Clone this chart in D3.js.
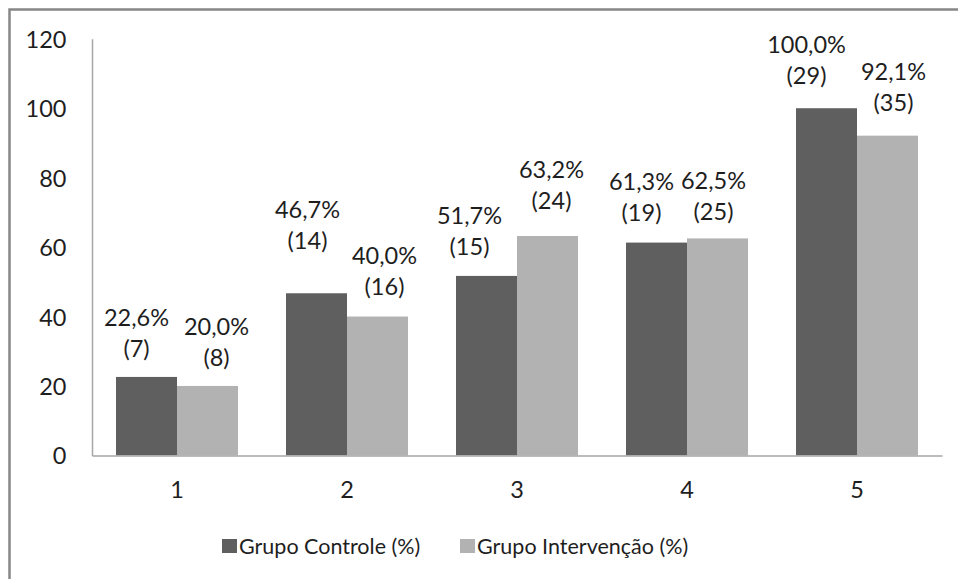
<!DOCTYPE html>
<html>
<head>
<meta charset="utf-8">
<script src="https://cdn.jsdelivr.net/npm/d3@7"></script>
<style>
  html, body { margin: 0; padding: 0; background: #fff; }
  svg { display: block; font-family: Lato, "Open Sans", sans-serif; }
</style>
</head>
<body>
<svg id="chart" width="958" height="579"></svg>
<script>
// Categories and series
const categories = ["1", "2", "3", "4", "5"];
const seriesNames = ["Grupo Controle (%)", "Grupo Intervenção (%)"];
const controlePct = [22.6, 46.7, 51.7, 61.3, 100.0];
const intervencaoPct = [20.0, 40.0, 63.2, 62.5, 92.1];
const controleN = [7, 14, 15, 19, 29];
const intervencaoN = [8, 16, 24, 25, 35];
const yTicks = [0, 20, 40, 60, 80, 100, 120];

// Hand-placed label nudges (px) for each series, per category
const labelNudgeX = [[-10, -9, -17, -15, -20], [9, 7, 4, -4, 6]];
const labelNudgeY = [[2, -23, 1, 0, -3], [2, 0, -5, 3, -3]];

const colors = ["#5f5f5f", "#b2b2b2"];
const textColor = "#1e1e1e";
const numSize = 23.5;
const legendSize = 21.5;

const svg = d3.select("#chart");

// Chart frame
svg.append("rect")
  .attr("x", 9.5).attr("y", 9.5)
  .attr("width", 960).attr("height", 600)
  .attr("fill", "none")
  .attr("stroke", "#878787")
  .attr("stroke-width", 2.5);

const plot = { left: 92, right: 942, top: 38.8, bottom: 455.4 };

const x = d3.scaleBand()
  .domain(categories)
  .range([plot.left, plot.right])
  .paddingInner(0.2824)
  .paddingOuter(0.1412);

const xSub = d3.scaleBand()
  .domain([0, 1])
  .range([0, x.bandwidth()])
  .padding(0);

const y = d3.scaleLinear()
  .domain([0, 120])
  .range([plot.bottom, plot.top]);

const rows = categories.map((c, i) => ({
  cat: c,
  vals: [
    { s: 0, i, v: controlePct[i], n: controleN[i] },
    { s: 1, i, v: intervencaoPct[i], n: intervencaoN[i] }
  ]
}));

// Bars
const groups = svg.append("g").selectAll("g")
  .data(rows)
  .join("g")
  .attr("transform", d => `translate(${x(d.cat)},0)`);

groups.selectAll("rect")
  .data(d => d.vals)
  .join("rect")
  .attr("x", d => xSub(d.s))
  .attr("y", d => y(d.v))
  .attr("width", xSub.bandwidth())
  .attr("height", d => y(0) - y(d.v))
  .attr("fill", d => colors[d.s]);

// Value labels: percentage and count on two lines
const fmt = v => v.toFixed(1).replace(".", ",") + "%";
const lineGap = 31;
const labels = groups.selectAll("g.lbl")
  .data(d => d.vals)
  .join("g")
  .attr("class", "lbl")
  .attr("transform", d => {
    const cx = xSub(d.s) + xSub.bandwidth() / 2 + labelNudgeX[d.s][d.i];
    const cy = y(d.v) - 30 + labelNudgeY[d.s][d.i];
    return `translate(${cx},${cy})`;
  });

labels.append("text")
  .attr("y", -lineGap)
  .attr("dy", "0.36em")
  .attr("text-anchor", "middle")
  .attr("font-size", numSize)
  .attr("fill", textColor)
  .text(d => fmt(d.v));

labels.append("text")
  .attr("y", 0)
  .attr("dy", "0.36em")
  .attr("text-anchor", "middle")
  .attr("font-size", numSize)
  .attr("fill", textColor)
  .text(d => `(${d.n})`);

// Y axis
const yAxis = svg.append("g")
  .attr("transform", `translate(${plot.left},0)`)
  .call(d3.axisLeft(y).tickValues(yTicks).tickSize(0).tickSizeOuter(0).tickPadding(25.5));
yAxis.select(".domain").attr("stroke", "#a6a6a6").attr("stroke-width", 1.5);
yAxis.selectAll("text")
  .attr("font-size", numSize)
  .attr("font-family", "Lato, sans-serif")
  .attr("fill", textColor)
  .attr("dy", "0.36em");

// X axis
const xAxis = svg.append("g")
  .attr("transform", `translate(0,${plot.bottom})`)
  .call(d3.axisBottom(x).tickSize(0).tickSizeOuter(0).tickPadding(0));
xAxis.select(".domain").attr("stroke", "#a6a6a6").attr("stroke-width", 1.5);
xAxis.selectAll("text")
  .attr("font-size", numSize)
  .attr("font-family", "Lato, sans-serif")
  .attr("fill", textColor)
  .attr("y", 34)
  .attr("dy", "0.36em");

// Legend
const legend = svg.append("g").attr("transform", "translate(222,546)");
const legendX = [0, 238];
const items = legend.selectAll("g")
  .data(seriesNames)
  .join("g")
  .attr("transform", (d, i) => `translate(${legendX[i]},0)`);
items.append("rect")
  .attr("x", 0).attr("y", -7)
  .attr("width", 15).attr("height", 14)
  .attr("fill", (d, i) => colors[i]);
items.append("text")
  .attr("x", 17)
  .attr("dy", "0.36em")
  .attr("font-size", legendSize)
  .attr("fill", textColor)
  .text(d => d);
</script>
</body>
</html>
